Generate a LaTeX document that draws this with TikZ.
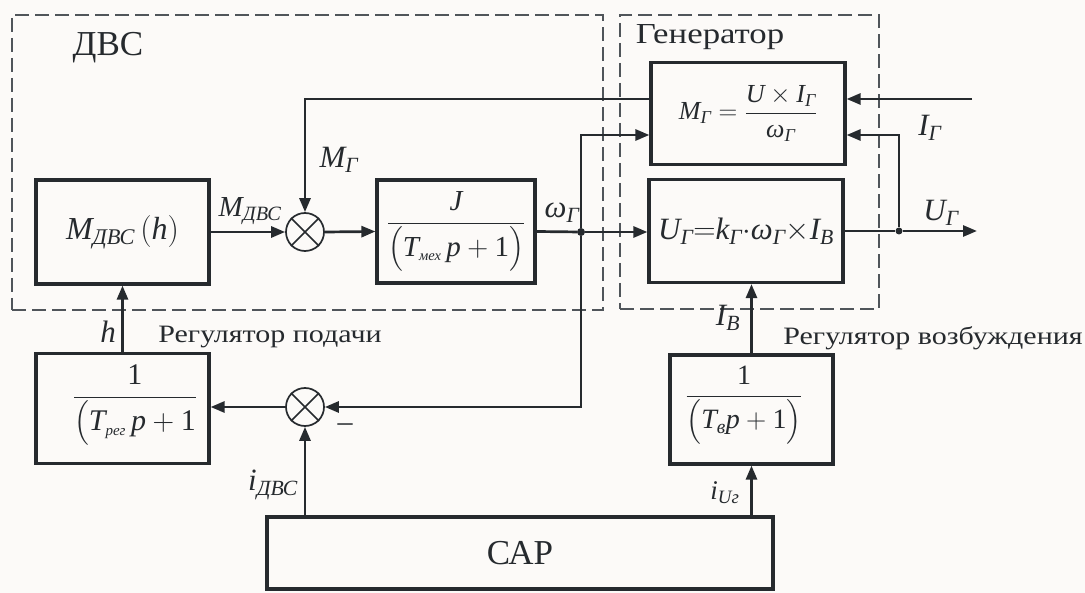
\RequirePackage{fix-cm}
\documentclass[tikz,border=0pt]{standalone}
\usepackage{amsmath}
\usepackage{fontspec}
\setmainfont{Liberation Serif}
\newfontfamily\widefont{Liberation Serif}[FakeStretch=1.2]
\usetikzlibrary{arrows.meta,calc}
\definecolor{ink}{RGB}{38,42,46}
\definecolor{dashc}{RGB}{80,85,90}
\definecolor{bg}{RGB}{252,250,248}
\newcommand{\mi}[1]{\textit{#1}}
\newcommand{\fs}[1]{\fontsize{#1}{#1}\selectfont}
\begin{document}
\begin{tikzpicture}[x=1pt,y=-1pt,
  blk/.style={draw=ink,line width=3.2pt,inner sep=0pt,text=ink},
  conn/.style={draw=ink,line width=2.7pt},
  arr/.style={conn,-{Triangle[length=14pt,width=11pt]}},
  sumnode/.style={circle,draw=ink,line width=1.7pt,minimum size=38pt,inner sep=0pt},
  grp/.style={draw=dashc,line width=1.6pt,dash pattern=on 14pt off 6pt,inner sep=0pt},
  lbl/.style={inner sep=0pt,text=ink},
  dotnode/.style={circle,fill=ink,minimum size=8pt,inner sep=0pt}
]
\fill[bg] (0,0) rectangle (1085,593);
\useasboundingbox (0,0) rectangle (1085,593);

% groups
\node[grp,minimum width=591pt,minimum height=295pt] (gdvs) at (307.5,162.5) {};
\node[grp,minimum width=259pt,minimum height=294pt] (ggen) at (749.5,162) {};
\node[lbl,font=\fs{35}] (tdvs) at (108,48) {ДВС};
\node[lbl,font=\widefont\fs{29}] (tgen) at (710,37) {Генератор};

% blocks
\node[blk,minimum width=173pt,minimum height=104pt,font=\fs{32}] (mdvs) at (122.5,232) {$\mi{M}_{\mi{ДВС}}\,(\mi{h})$};
\node[sumnode] (s1) at (305,232) {};
\draw[ink,line width=1.7pt] (s1.north west) -- (s1.south east) (s1.north east) -- (s1.south west);
\node[blk,minimum width=158pt,minimum height=103pt,font=\fs{29}] (jb) at (456,231.5) {$\dfrac{\mi{J}}{\bigl(\mi{T}_{\scriptscriptstyle\mi{мех}}\,\mi{p}+\text{1}\bigr)}$};
\node[dotnode] (wj) at (581,232) {};
\node[blk,minimum width=194pt,minimum height=102pt,font=\fs{26}] (gm) at (748,113.5) {$\mi{M}_{\mi{Г}}=\dfrac{\mi{U}\times\mi{I}_{\mi{Г}}}{\mi{ω}_{\mi{Г}}}$};
\node[blk,minimum width=194pt,minimum height=103pt,font=\fs{31}] (gu) at (746,231) {$\mi{U}_{\mi{Г}}{=}\mi{k}_{\mi{Г}}{\cdot}\mi{ω}_{\mi{Г}}{\times}\mi{I}_{\mi{В}}$};
\node[dotnode,minimum size=7pt] (uj) at (899,231) {};
\coordinate (iin) at (972,99);
\coordinate (uout) at (977,231);

\node[blk,minimum width=173pt,minimum height=110pt] (rp) at (122.5,408.5) {};
\node[lbl,font=\fs{30}] (rpt) at (135,405) {$\dfrac{\text{1}}{\bigl(\mi{T}_{\scriptscriptstyle\mi{рег}}\,\mi{p}+\text{1}}$};
\node[sumnode] (s2) at (305,407) {};
\draw[ink,line width=1.7pt] (s2.north west) -- (s2.south east) (s2.north east) -- (s2.south west);
\node[blk,minimum width=163pt,minimum height=109pt] (rv) at (751.5,409.5) {};
\node[lbl,font=\fs{28}] (rvt) at (744,405) {$\dfrac{\text{1}}{\bigl(\mi{T}_{\mi{в}}\mi{p}+\text{1}\bigr)}$};
\node[blk,minimum width=506pt,minimum height=72pt,font=\fs{35}] (cap) at (520,553) {САР};

% connectors
\draw[arr] (mdvs.east) -- (s1.west);
\draw[arr] (s1.east) -- (jb.west);
\draw[conn] (jb.east) -- (wj);
\draw[arr] (wj) -- (wj -| gu.west);
\draw[arr] (wj) |- ([yshift=-21.5pt]gm.west);
\draw[arr] ([yshift=14.5pt]gm.west) -| (s1.north);
\draw[arr] (iin) -- (iin -| gm.east);
\draw[conn] (gu.east) -- (uj);
\draw[arr] (uj) -- (uout);
\draw[arr] (uj) |- ([yshift=-21.5pt]gm.east);
\draw[arr] (wj) |- (s2.east);
\draw[arr] (s2.west) -- (s2.west -| rp.east);
\draw[arr] (rp.north) -- (rp.north |- mdvs.south);
\draw[arr] (s2.south |- cap.north) -- (s2.south);
\draw[arr] (rv.south |- cap.north) -- (rv.south);
\draw[arr] (rv.north) -- (rv.north |- gu.south);

% labels
\node[lbl,font=\fs{29}] (lmd) at (250,211) {$\mi{M}_{\mi{ДВС}}$};
\node[lbl,font=\fs{31}] (lmg) at (339,160) {$\mi{M}_{\mi{Г}}$};
\node[lbl,font=\fs{31}] (lw) at (562,213) {$\mi{ω}_{\mi{Г}}$};
\node[lbl,font=\fs{31}] (lig) at (930,128) {$\mi{I}_{\mi{Г}}$};
\node[lbl,font=\fs{31}] (lug) at (941,213) {$\mi{U}_{\mi{Г}}$};
\node[lbl,font=\fs{31}] (lib) at (728,318) {$\mi{I}_{\mi{В}}$};
\node[lbl,font=\widefont\fs{25}] (trv) at (933,338) {Регулятор возбуждения};
\node[lbl,font=\widefont\fs{25}] (trp) at (270,337) {Регулятор подачи};
\node[lbl,font=\fs{31}] (lh) at (108,332) {\mi{h}};
\node[lbl,font=\fs{30}] (lminus) at (345,428) {–};
\node[lbl,font=\fs{31}] (lid) at (273,485) {$\mi{i}_{\mi{ДВС}}$};
\node[lbl,font=\fs{27}] (liu) at (725,493) {$\mi{i}_{\mi{Uг}}$};
\end{tikzpicture}
\end{document}
